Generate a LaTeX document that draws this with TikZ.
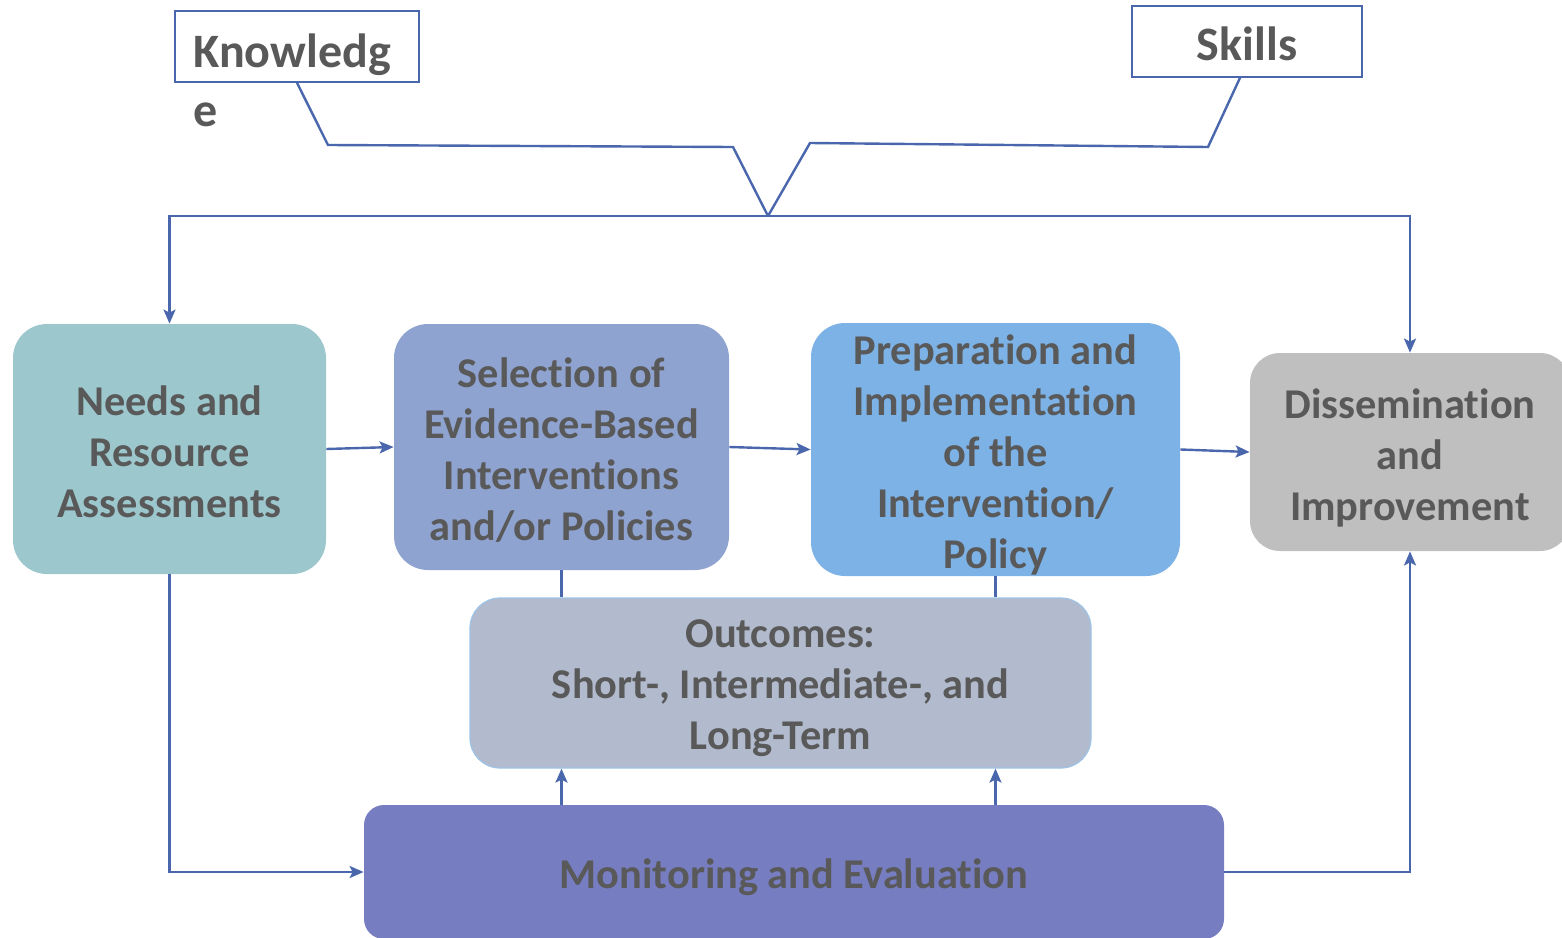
\documentclass[tikz,border=0pt]{standalone}
\usepackage{fontspec}
\setmainfont{Carlito}[Ligatures={NoCommon,NoContextual}, Contextuals={NoAlternate}]
\usetikzlibrary{arrows.meta}
\definecolor{linec}{HTML}{4A66AC}
\definecolor{txt}{HTML}{595959}
\definecolor{needsc}{HTML}{9CC7CD}
\definecolor{selc}{HTML}{8FA3D0}
\definecolor{prepc}{HTML}{7DB2E6}
\definecolor{dissc}{HTML}{BFBFBF}
\definecolor{outc}{HTML}{B2BBCD}
\definecolor{outb}{HTML}{9DC3E6}
\definecolor{monc}{HTML}{777DC1}
\begin{document}
\begin{tikzpicture}[x=0.5pt,y=-0.5pt,
  box/.style={rounded corners=17pt, inner sep=0pt},
  boxtext/.style={inner sep=0pt, align=center, text=txt,
    font=\fontsize{21.2}{25.5}\selectfont\bfseries},
  topbox/.style={draw=linec, line width=0.8pt, fill=white, inner sep=0pt,
    minimum height=35.5pt, text=txt, font=\fontsize{24}{29.5}\selectfont\bfseries},
  conn/.style={draw=linec, line width=1.2pt},
  arr/.style={conn, -{Stealth[length=7pt,width=6pt,inset=1.5pt]}}]
\useasboundingbox (0,0) rectangle (1562,937);

\node[topbox, minimum width=122pt] (knowledge) at (297,46.5) {};
\node[anchor=north west, inner sep=0pt, align=left, text=txt,
  font=\fontsize{24}{29.5}\selectfont\bfseries] (ktext) at (193,33) {Knowledg\\e};
\node[topbox, minimum width=115pt, label={[boxtext, font=\fontsize{24}{29.5}\selectfont\bfseries, yshift=-1pt]center:Skills}] (skills) at (1247,41.5) {};

\node[box, fill=needsc, minimum width=156.5pt, minimum height=125pt,
  label={[boxtext, yshift=-1.5pt]center:{Needs and\\Resource\\Assessments}}] (needs) at (169.5,449) {};
\node[box, fill=selc, minimum width=167.5pt, minimum height=123pt,
  label={[boxtext, yshift=-1.5pt]center:{Selection of\\Evidence-Based\\Interventions\\and/or Policies}}] (selection) at (561.5,447) {};
\node[box, fill=prepc, minimum width=184.5pt, minimum height=126.5pt,
  label={[boxtext, yshift=-2.5pt]center:{Preparation and\\Implementation\\of the\\Intervention/\\Policy}}] (prep) at (995.5,449.5) {};
\node[box, fill=dissc, rounded corners=15pt, minimum width=160pt, minimum height=99pt,
  label={[boxtext, yshift=-3pt]center:{Dissemination\\and\\Improvement}}] (diss) at (1410,452) {};
\node[box, fill=outc, draw=outb, line width=0.6pt, rounded corners=15pt,
  minimum width=310.5pt, minimum height=85pt,
  label={[boxtext, yshift=-2.5pt]center:{Outcomes:\\Short-, Intermediate-, and\\Long-Term}}] (outcomes) at (780.5,683) {};
\node[box, fill=monc, rounded corners=10pt, minimum width=430pt, minimum height=67pt,
  label={[boxtext, yshift=-2.5pt]center:{Monitoring and Evaluation}}] (monitoring) at (794,872) {};

% top connectors
\coordinate (join) at (768,216);
\draw[conn, line join=miter] (knowledge.south) -- (328,145) -- (733,147) -- (join);
\draw[conn, line join=miter] ([xshift=-3.5pt]skills.south) -- (1208,147) -- (810,143) -- (join);
\draw[arr] (join) -| (needs.north);
\draw[arr] (join) -| (diss.north);

% horizontal flow
\draw[arr] (needs.east) -- (selection.west);
\draw[arr] (selection.east) -- (prep.west);
\draw[arr] (prep.east) -- (diss.west);

% to outcomes
\draw[conn] (selection.south) -- (selection.south |- outcomes.north);
\draw[conn] (prep.south) -- (prep.south |- outcomes.north);
\draw[arr] (monitoring.north -| selection.south) -- (outcomes.south -| selection.south);
\draw[arr] (monitoring.north -| prep.south) -- (outcomes.south -| prep.south);

% loops
\draw[arr] (needs.south) |- (monitoring.west);
\draw[arr] (monitoring.east) -| (diss.south);
\end{tikzpicture}
\end{document}
